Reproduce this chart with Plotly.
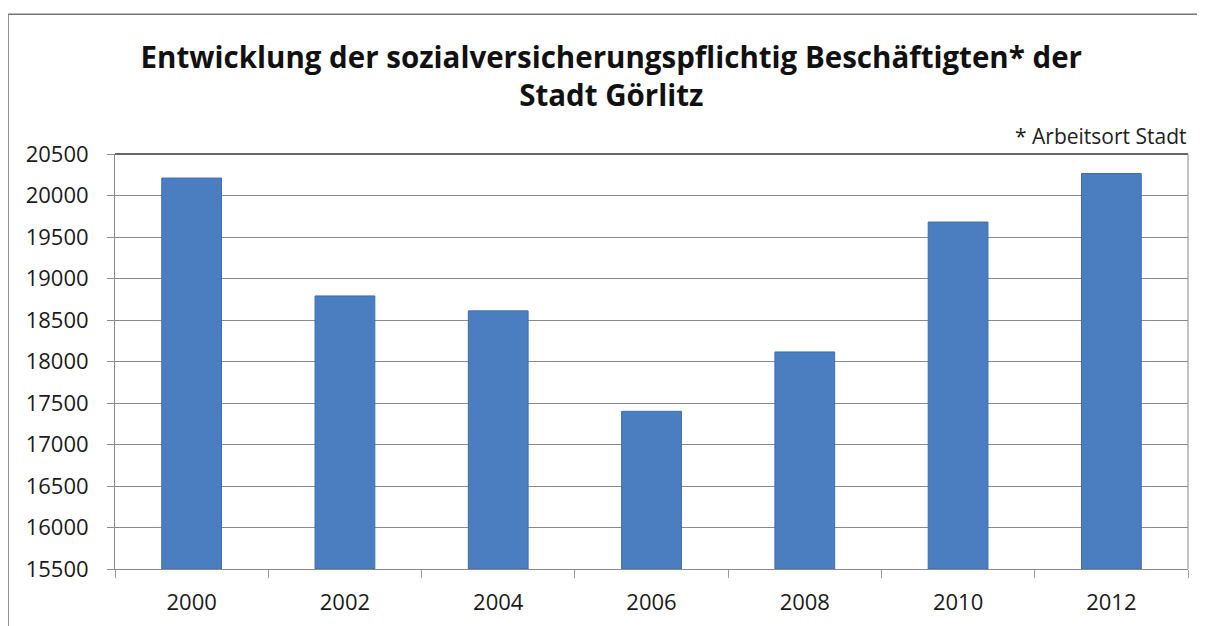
import plotly.graph_objects as go

years = ["2000", "2002", "2004", "2006", "2008", "2010", "2012"]
employees = [20210, 18790, 18610, 17400, 18115, 19680, 20265]
y_ticks = list(range(15500, 21000, 500))
y_base = 15500

title_text = "Entwicklung der sozialversicherungspflichtig Beschäftigten* der<br>Stadt Görlitz"
note_text = "* Arbeitsort Stadt"

W, H = 1197, 618  # page body has an 8px margin

fig = go.Figure()
fig.add_trace(go.Bar(
    x=years, y=[v - y_base for v in employees],
    base=y_base,
    marker=dict(color="#4a7ec0", line=dict(color="#3d6db0", width=1)),
    hovertext=[str(v) for v in employees],
))

fig.update_layout(
    width=W, height=H,
    margin=dict(l=107, r=17, t=146, b=57),
    paper_bgcolor="white", plot_bgcolor="white",
    bargap=0.61,
    showlegend=False,
    font=dict(family="Open Sans, sans-serif", color="#1a1a1a"),
    title=dict(text="<b>" + title_text + "</b>", x=0.504, xanchor="center",
               y=1 - 60 / H, yanchor="top",
               font=dict(size=29.5, family="Open Sans, sans-serif", color="#111")),
)
fig.update_yaxes(
    range=[15500, 20500], tickvals=y_ticks, ticktext=[str(v) for v in y_ticks],
    showgrid=True, gridcolor="#8a8a8a", gridwidth=1,
    ticks="outside", ticklen=7, tickcolor="#8a8a8a",
    ticklabelstandoff=14, automargin=False,
    showline=True, linecolor="#8a8a8a", linewidth=1,
    tickfont=dict(size=22), zeroline=False,
)
fig.update_xaxes(
    showline=True, linecolor="#8a8a8a", linewidth=1,
    ticks="outside", tickson="boundaries", ticklen=8, tickcolor="#9a9a9a",
    ticklabelstandoff=14, automargin=False,
    tickfont=dict(size=22),
)
# top and right plot border
fig.add_shape(type="line", xref="paper", yref="paper", x0=0, x1=1, y0=1, y1=1,
              line=dict(color="#333", width=1.5))
fig.add_shape(type="line", xref="paper", yref="paper", x0=1, x1=1, y0=0, y1=1,
              line=dict(color="#8a8a8a", width=1))
# outer chart frame
fig.add_shape(type="rect", xref="paper", yref="paper",
              x0=-0.0997, x1=1.2, y0=-0.4, y1=1.337,
              line=dict(color="#777", width=1.5), layer="below")
fig.add_annotation(text=note_text, xref="paper", yref="paper", x=1.0, y=1.0,
                   xanchor="right", yanchor="bottom", yshift=2, showarrow=False,
                   font=dict(size=21, color="#222"))

fig.write_html("out.html")
